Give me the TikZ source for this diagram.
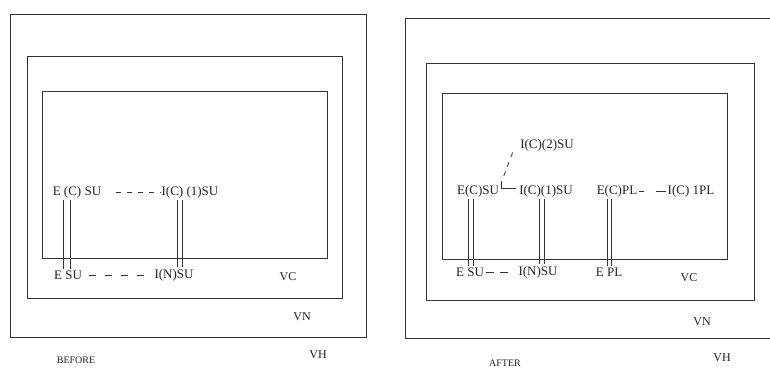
\documentclass[tikz,border=0pt]{standalone}
\usepackage{fontspec}
\setmainfont{Liberation Serif}
\usetikzlibrary{arrows.meta,positioning,calc}
\definecolor{vmLine}{HTML}{333333}
\definecolor{vmText}{HTML}{222222}
\tikzset{
  % Nested domains: host, node, container.
  vm/frame/.style={draw=vmLine, line width=0.8pt},
  % Unit labels inside the domains.
  vm/unit/.style={font=\fontsize{13}{15}\selectfont, text=vmText, inner sep=1.5pt},
  % Domain names and captions.
  vm/tag/.style={font=\fontsize{12}{14}\selectfont, text=vmText, inner sep=1pt},
  vm/cap/.style={font=\fontsize{10}{12}\selectfont, text=vmText, inner sep=1pt},
  % Links. Two rails for a binding, dashed for a loose relation.
  vm/bind/.style={draw=vmLine, line width=0.8pt},
  vm/loose/.style={draw=vmLine, line width=0.8pt},
}
\begin{document}
\begin{tikzpicture}[x=1pt,y=-1pt]
  \useasboundingbox (0,0) rectangle (770,367);
  % before
  \draw[vm/frame] (10,14) rectangle (366,337);
  \draw[vm/frame] (27,56) rectangle (342,298);
  \draw[vm/frame] (42,91) rectangle (327,258);
  \node[vm/unit] (ecsu)  at (77,192)  {E (C) SU};
  \node[vm/unit] (icsu)  at (190,192) {I(C) (1)SU};
  \node[vm/unit] (esu)   at (68,275)  {E SU};
  \node[vm/unit] (insu)  at (174,275) {I(N)SU};
  \draw[vm/loose, dash pattern=on 5pt off 6pt, shorten <=13pt] (ecsu.east) -- (icsu.west);
  \draw[vm/loose, dash pattern=on 7pt off 9pt, shorten <=5pt, shorten >=6pt] (esu.east) -- (insu.west);
  \foreach \dx in {-14,-7}
    \draw[vm/bind] ([xshift=\dx pt]ecsu.south) -- ([xshift=\dx pt]ecsu.south |- esu.north);
  \foreach \dx in {-12.5,-7.5}
    \draw[vm/bind] ([xshift=\dx pt]icsu.south) -- ([xshift=\dx pt]icsu.south |- insu.north);
  \node[vm/tag] (vc)  at (288,277) {VC};
  \node[vm/tag] (vn)  at (302,317) {VN};
  \node[vm/tag] (vh)  at (318,355) {VH};
  \node[vm/cap] (bef) at (76,360)  {BEFORE};
  % after
  \draw[vm/frame] (770,18) -- (405,18) -- (405,338) -- (770,338);
  \draw[vm/frame] (426,63) rectangle (754,300);
  \draw[vm/frame] (442,93) rectangle (727,259);
  \node[vm/unit] (ic2su) at (547,145) {I(C)(2)SU};
  \node[vm/unit] (ecsuB) at (478,191) {E(C)SU};
  \node[vm/unit] (icsuB) at (546,191) {I(C)(1)SU};
  \node[vm/unit] (ecpl)  at (617,191) {E(C)PL};
  \node[vm/unit] (icpl)  at (691,191) {I(C) 1PL};
  \node[vm/unit] (esuB)  at (470,272) {E SU};
  \node[vm/unit] (insuB) at (538,272) {I(N)SU};
  \node[vm/unit] (epl)   at (609,272) {E PL};
  \coordinate (crn) at (501,188);
  \draw[vm/loose, dash pattern=on 5pt off 5pt] ([xshift=-6pt]ic2su.south west) -- ($(crn)+(2,-10)$);
  \draw[vm/loose] ($(crn)+(0,-7)$) -- (crn) -- ([xshift=-2pt]crn -| icsuB.west);
  \draw[vm/loose, dash pattern=on 5pt off 12pt on 12pt off 5pt] (ecpl.east) -- (icpl.west);
  \draw[vm/loose, dash pattern=on 8pt off 6pt, shorten >=5pt] (esuB.east) -- (insuB.west);
  \foreach \dx in {-10,-4.5}
    \draw[vm/bind] ([xshift=\dx pt]ecsuB.south) -- ([xshift=\dx pt]ecsuB.south |- esuB.north);
  \foreach \dx in {-7,-1.5}
    \draw[vm/bind] ([xshift=\dx pt]icsuB.south) -- ([xshift=\dx pt]icsuB.south |- insuB.north);
  \foreach \dx in {-10,-6}
    \draw[vm/bind] ([xshift=\dx pt]ecpl.south) -- ([xshift=\dx pt]ecpl.south |- epl.north);
  \node[vm/tag] (vcB)  at (689,278) {VC};
  \node[vm/tag] (vnB)  at (702,322) {VN};
  \node[vm/tag] (vhB)  at (722,358) {VH};
  \node[vm/cap] (aft)  at (505,363) {AFTER};
\end{tikzpicture}
\end{document}
